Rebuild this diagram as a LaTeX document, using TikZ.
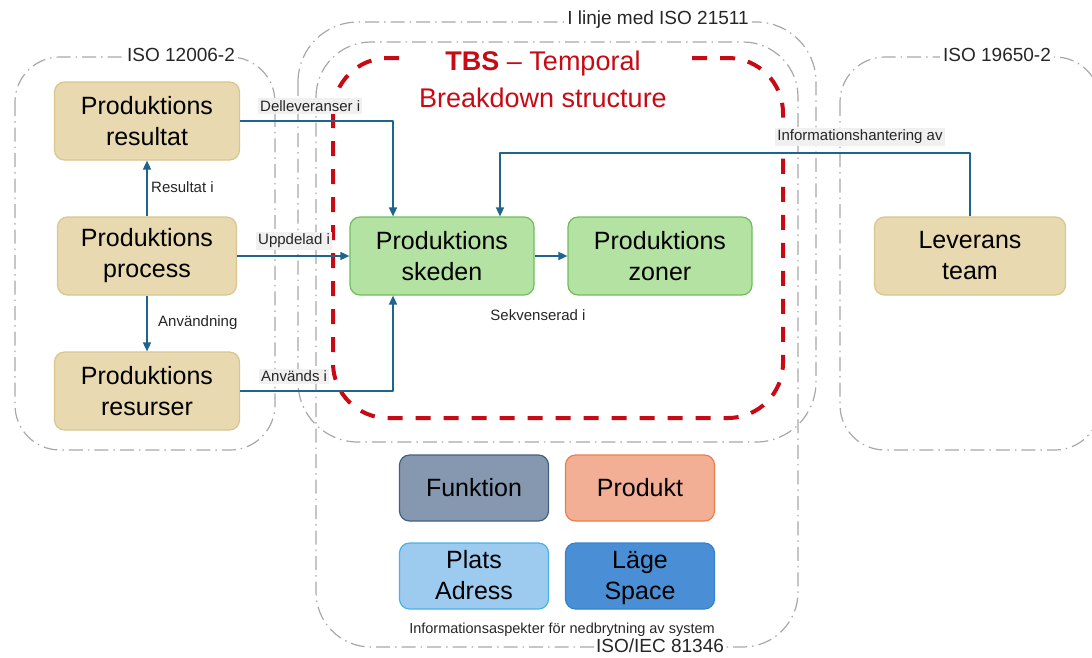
\documentclass[tikz,border=0pt]{standalone}
\usepackage{fontspec}
\setmainfont{Liberation Sans}
\usetikzlibrary{arrows.meta}
\definecolor{tanfill}{RGB}{232,217,176}
\definecolor{tanline}{RGB}{216,198,142}
\definecolor{grfill}{RGB}{180,226,162}
\definecolor{grline}{RGB}{110,190,90}
\definecolor{funfill}{RGB}{134,152,176}
\definecolor{funline}{RGB}{64,98,126}
\definecolor{prdfill}{RGB}{243,174,150}
\definecolor{prdline}{RGB}{237,125,70}
\definecolor{plafill}{RGB}{157,203,240}
\definecolor{plaline}{RGB}{70,178,230}
\definecolor{lagfill}{RGB}{74,143,214}
\definecolor{lagline}{RGB}{50,130,205}
\definecolor{pilblue}{RGB}{30,100,140}
\definecolor{isogray}{RGB}{168,168,168}
\definecolor{lblgray}{RGB}{240,240,240}
\definecolor{tbsred}{RGB}{200,10,20}
\definecolor{txtdark}{RGB}{38,38,38}
\begin{document}
\begin{tikzpicture}[x=1pt, y=-1pt, line join=round, font=\fontsize{25}{31}\selectfont, >={Triangle[length=9pt,width=8pt]},
	iso/.style={draw=isogray, line width=1.2pt, dash pattern=on 14pt off 5pt on 1.5pt off 5pt, rounded corners=45pt},
	isotxt/.style={fill=white, inner sep=3pt, font=\fontsize{19}{22}\selectfont, text=txtdark},
	box/.style={draw, line width=1.2pt, rounded corners=10pt, align=center, minimum height=78pt, text=black},
	bn/.style={box, fill=tanfill, draw=tanline, minimum width=185pt},
	gn/.style={box, fill=grfill, draw=grline, minimum width=184pt},
	asp/.style={box, minimum width=149pt, minimum height=66pt},
	pil/.style={->, draw=pilblue, line width=1.6pt},
	lbl/.style={fill=lblgray, inner sep=2pt, font=\fontsize{15}{17}\selectfont, text=txtdark},
	lblw/.style={inner sep=2pt, font=\fontsize{15}{17}\selectfont, text=txtdark}]
	\useasboundingbox (0,0) rectangle (1092,657);
	% standard-ramar
	\draw[iso] (15,57) rectangle (275,450);
	\draw[iso, rounded corners=60pt] (298,22) rectangle (816,442);
	\draw[iso, rounded corners=55pt] (316,42) rectangle (798,647);
	\draw[iso] (840,57) rectangle (1100,450);
	\node[isotxt] (i12) at (181,55) {ISO 12006-2};
	\node[isotxt] (i21) at (658,20) {I linje med ISO 21511};
	\node[isotxt] (i19) at (997,55) {ISO 19650-2};
	\node[isotxt, inner sep=1pt] (i81) at (660,646) {ISO/IEC 81346};
	% TBS
	\draw[tbsred, line width=4pt, dash pattern=on 15pt off 13pt, rounded corners=55pt] (333,58) rectangle (783,418);
	\node[fill=white, minimum width=282pt, inner sep=1pt, text=tbsred, font=\fontsize{27}{32}\selectfont] (tbs) at (543,64) {\textbf{TBS} -- Temporal};
	\node[text=tbsred, font=\fontsize{27}{32}\selectfont] (bds) at (543,98) {Breakdown structure};
	% noder
	\node[bn] (res) at (147,121) {Produktions\\resultat};
	\node[bn, minimum width=179pt] (pro) at (147,256) {Produktions\\process};
	\node[bn] (rsr) at (147,391) {Produktions\\resurser};
	\node[gn] (sked) at (442,256) {Produktions\\skeden};
	\node[gn] (zon) at (660,256) {Produktions\\zoner};
	\node[bn, minimum width=191pt] (lev) at (970,256) {Leverans\\team};
	\foreach \n/\p/\f/\l/\t in {fun/{474,488}/funfill/funline/Funktion, prd/{640,488}/prdfill/prdline/Produkt,
		pla/{474,576}/plafill/plaline/{\vphantom{Ä}Plats\\Adress\vphantom{p}}, lag/{640,576}/lagfill/lagline/{\vphantom{Ä}Läge\\Space\vphantom{p}}}{
		\node[asp, fill=\f, draw=\l] (\n) at (\p) {\t};
	}
	\node[lblw, font=\fontsize{14.5}{17}\selectfont] (asp) at (562,630) {Informationsaspekter för nedbrytning av system};
	% pilar
	\coordinate (kA) at (393,0);
	\coordinate (kB) at (500,153);
	\draw[pil] (pro.north) -- (res.south);
	\draw[pil] (pro.south) -- (rsr.north);
	\draw[pil] (pro.east) -- (sked.west);
	\draw[pil] (sked.east) -- (zon.west);
	\draw[pil] (res.east) -| (kA |- sked.north);
	\draw[pil] (rsr.east) -| (kA |- sked.south);
	\draw[pil] (lev.north) |- (kB) -- (kB |- sked.north);
	\node[lbl, anchor=west] (l1) at (258,106) {Delleveranser i};
	\node[lbl, anchor=west] (l2) at (256,241) {Uppdelad i};
	\node[lbl, anchor=west] (l3) at (259,376) {Används i};
	\node[lblw, anchor=west] (l4) at (149,187) {Resultat i};
	\node[lblw, anchor=west] (l5) at (156,323) {Användning};
	\node[lblw] (l6) at (538,315) {Sekvenserad i};
	\node[lbl] (l7) at (860,137) {Informationshantering av};
\end{tikzpicture}
\end{document}
